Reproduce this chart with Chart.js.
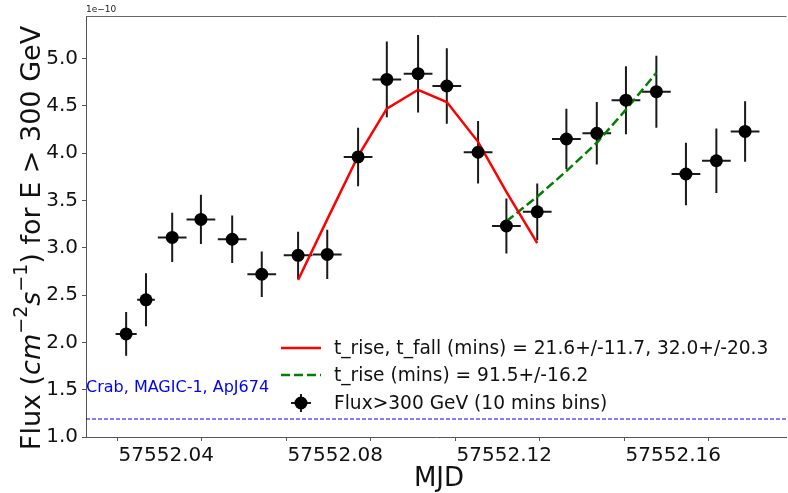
<!DOCTYPE html>
<html>
<head>
<meta charset="utf-8">
<script src="https://cdn.jsdelivr.net/npm/chart.js@4.4.0/dist/chart.umd.min.js"></script>
<style>
  html, body { margin: 0; padding: 0; background: #fff; overflow: hidden; }
  /* the plot frame runs past the right edge, so the canvas is a little wider than the view */
  #wrap { width: 788px; height: 493px; overflow: hidden; }
</style>
</head>
<body>
<div id="wrap"><canvas id="fluxChart" width="793" height="493"></canvas></div>
<script>
// Light curve, flux above 300 GeV in 10 minute bins (units of 1e-10 cm^-2 s^-1)
const mjd = [57552.0421, 57552.0468, 57552.0530, 57552.0598, 57552.0672, 57552.0742,
             57552.0828, 57552.0897, 57552.0970, 57552.1038, 57552.1112, 57552.1180,
             57552.1254, 57552.1321, 57552.1394, 57552.1463, 57552.1535, 57552.1604,
             57552.1676, 57552.1746, 57552.1818, 57552.1886];
const mjdErr = [0.0025, 0.0021, 0.0034, 0.0034, 0.0034, 0.0034, 0.0034, 0.0034, 0.0034, 0.0034, 0.0034,
                0.0034, 0.0034, 0.0034, 0.0034, 0.0034, 0.0034, 0.0034, 0.0034, 0.0034, 0.0034, 0.0034];
const flux = [2.09, 2.45, 3.11, 3.30, 3.09, 2.72, 2.92, 2.93, 3.96, 4.78, 4.84,
              4.71, 4.01, 3.23, 3.38, 4.15, 4.21, 4.56, 4.65, 3.78, 3.92, 4.23];
const fluxErr = [0.23, 0.28, 0.26, 0.26, 0.25, 0.24, 0.25, 0.26, 0.31, 0.40, 0.41,
                 0.40, 0.33, 0.29, 0.30, 0.32, 0.33, 0.36, 0.38, 0.33, 0.34, 0.32];

// rise/fall fit over the first flare, rise fit over the second one
const riseFallMjd = mjd.slice(6, 15);
const riseFallFlux = [2.66, 3.30, 3.97, 4.47, 4.67, 4.54, 4.12, 3.59, 3.05];
const riseMjd = mjd.slice(13, 19);
const riseFlux = [3.28, 3.54, 3.81, 4.11, 4.46, 4.85];

const crabFlux = 1.19;
const crabLabel = 'Crab, MAGIC-1, ApJ674';
const legendLabels = ['t_rise, t_fall (mins) = 21.6+/-11.7, 32.0+/-20.3',
                      't_rise (mins) = 91.5+/-16.2',
                      'Flux>300 GeV (10 mins bins)'];

const X_MIN = 57552.0326, X_MAX = 57552.1984;
const Y_MIN = 1.0, Y_MAX = 5.45;
const FONT = "'DejaVu Sans', sans-serif";

const errorBars = {
    id: 'errorBars',
    beforeDatasetsDraw(chart) {
        const { ctx, scales: { x, y } } = chart;
        ctx.save();
        ctx.strokeStyle = '#1a1a1a';
        ctx.lineWidth = 2;
        mjd.forEach((t, i) => {
            const px = x.getPixelForValue(t);
            const py = y.getPixelForValue(flux[i]);
            ctx.beginPath();
            ctx.moveTo(x.getPixelForValue(t - mjdErr[i]), py);
            ctx.lineTo(x.getPixelForValue(t + mjdErr[i]), py);
            ctx.moveTo(px, y.getPixelForValue(flux[i] + fluxErr[i]));
            ctx.lineTo(px, y.getPixelForValue(flux[i] - fluxErr[i]));
            ctx.stroke();
        });
        ctx.restore();
    }
};

function drawYTitle(ctx, cx, cy) {
    const big = 27, small = 19;
    const parts = [
        { t: 'Flux (', f: `${big}px ${FONT}`, dy: 0 },
        { t: 'cm', f: `italic ${big}px ${FONT}`, dy: 0 },
        { t: '\u22122', f: `${small}px ${FONT}`, dy: -11 },
        { t: 's', f: `italic ${big}px ${FONT}`, dy: 0 },
        { t: '\u22121', f: `${small}px ${FONT}`, dy: -11 },
        { t: ') for E > 300 GeV', f: `${big}px ${FONT}`, dy: 0 }
    ];
    let total = 0;
    parts.forEach(p => { ctx.font = p.f; p.w = ctx.measureText(p.t).width; total += p.w; });
    ctx.save();
    ctx.translate(cx, cy);
    ctx.rotate(-Math.PI / 2);
    ctx.textBaseline = 'middle';
    ctx.textAlign = 'left';
    let pos = -total / 2;
    parts.forEach(p => {
        ctx.font = p.f;
        ctx.fillText(p.t, pos, p.dy);
        pos += p.w;
    });
    ctx.restore();
}

const decorations = {
    id: 'decorations',
    afterDraw(chart) {
        const { ctx, chartArea: a, scales: { y } } = chart;
        ctx.save();
        // top spine
        ctx.strokeStyle = '#666';
        ctx.lineWidth = 1;
        ctx.beginPath();
        ctx.moveTo(a.left, a.top + 0.5);
        ctx.lineTo(a.right, a.top + 0.5);
        ctx.stroke();

        ctx.fillStyle = '#222';
        ctx.font = `9px ${FONT}`;
        ctx.textAlign = 'left';
        ctx.textBaseline = 'bottom';
        ctx.fillText('1e\u221210', a.left, a.top - 2);

        // reference level label
        ctx.fillStyle = '#0000ff';
        ctx.font = `16px ${FONT}`;
        ctx.textBaseline = 'alphabetic';
        ctx.fillText(crabLabel, a.left, y.getPixelForValue(1.48));

        // axis titles
        ctx.fillStyle = '#111';
        ctx.font = `26px ${FONT}`;
        ctx.textAlign = 'center';
        ctx.fillText('MJD', 439, 486);
        drawYTitle(ctx, 33, 238);

        // legend
        const rows = [348, 375, 403];
        const hx0 = 281, hx1 = 321, tx = 334;
        ctx.lineWidth = 2.5;
        ctx.strokeStyle = '#ff0000';
        ctx.beginPath(); ctx.moveTo(hx0, rows[0]); ctx.lineTo(hx1, rows[0]); ctx.stroke();
        ctx.strokeStyle = '#008000';
        ctx.setLineDash([9, 4]);
        ctx.beginPath(); ctx.moveTo(hx0, rows[1]); ctx.lineTo(hx1, rows[1]); ctx.stroke();
        ctx.setLineDash([]);
        const mx = (hx0 + hx1) / 2;
        ctx.strokeStyle = '#1a1a1a';
        ctx.lineWidth = 2;
        ctx.beginPath();
        ctx.moveTo(mx - 10, rows[2]); ctx.lineTo(mx + 10, rows[2]);
        ctx.moveTo(mx, rows[2] - 9); ctx.lineTo(mx, rows[2] + 9);
        ctx.stroke();
        ctx.fillStyle = '#000';
        ctx.beginPath(); ctx.arc(mx, rows[2], 6.5, 0, Math.PI * 2); ctx.fill();

        ctx.fillStyle = '#111';
        ctx.font = `18.6px ${FONT}`;
        ctx.textAlign = 'left';
        ctx.textBaseline = 'middle';
        legendLabels.forEach((s, i) => ctx.fillText(s, tx, rows[i] + 1));
        ctx.restore();
    }
};

new Chart(document.getElementById('fluxChart'), {
    type: 'scatter',
    data: {
        datasets: [
            {
                data: mjd.map((t, i) => ({ x: t, y: flux[i] })),
                pointRadius: 6.5,
                pointBackgroundColor: '#000',
                pointBorderColor: '#000',
                pointBorderWidth: 0,
                order: 0
            },
            {
                data: riseFallMjd.map((t, i) => ({ x: t, y: riseFallFlux[i] })),
                showLine: true,
                borderColor: '#ff0000',
                borderWidth: 2.5,
                pointRadius: 0,
                order: 1
            },
            {
                data: riseMjd.map((t, i) => ({ x: t, y: riseFlux[i] })),
                showLine: true,
                borderColor: '#008000',
                borderWidth: 2.5,
                borderDash: [9, 4],
                pointRadius: 0,
                order: 1
            },
            {
                data: [{ x: X_MIN, y: crabFlux }, { x: X_MAX, y: crabFlux }],
                showLine: true,
                borderColor: '#0000ff',
                borderWidth: 1.2,
                borderDash: [4, 2],
                pointRadius: 0,
                order: 2
            }
        ]
    },
    options: {
        responsive: false,
        animation: false,
        events: [],
        layout: { padding: { top: 14, left: 0, right: 0, bottom: 0 } },
        plugins: { legend: { display: false }, tooltip: { enabled: false } },
        scales: {
            x: {
                type: 'linear',
                min: X_MIN,
                max: X_MAX,
                afterFit: s => { s.height = 56; },
                border: { display: true, color: '#555', width: 1 },
                grid: { drawOnChartArea: false, drawTicks: true, tickLength: 4, color: '#555' },
                ticks: {
                    stepSize: 0.02,
                    includeBounds: false,
                    autoSkip: false,
                    maxRotation: 0,
                    minRotation: 0,
                    labelOffset: 49,
                    padding: 3,
                    color: '#111',
                    font: { family: FONT, size: 20 },
                    callback: v => (Math.round((v - 57552) * 100) % 4 === 0 ? v.toFixed(2) : '')
                }
            },
            y: {
                min: Y_MIN,
                max: Y_MAX,
                afterFit: s => { s.width = 86; },
                border: { display: true, color: '#555', width: 1 },
                grid: { drawOnChartArea: false, drawTicks: true, tickLength: 4, color: '#555' },
                ticks: {
                    stepSize: 0.5,
                    includeBounds: false,
                    padding: 4,
                    color: '#111',
                    font: { family: FONT, size: 20 },
                    callback: v => v.toFixed(1)
                }
            }
        }
    },
    plugins: [errorBars, decorations]
});
</script>
</body>
</html>
